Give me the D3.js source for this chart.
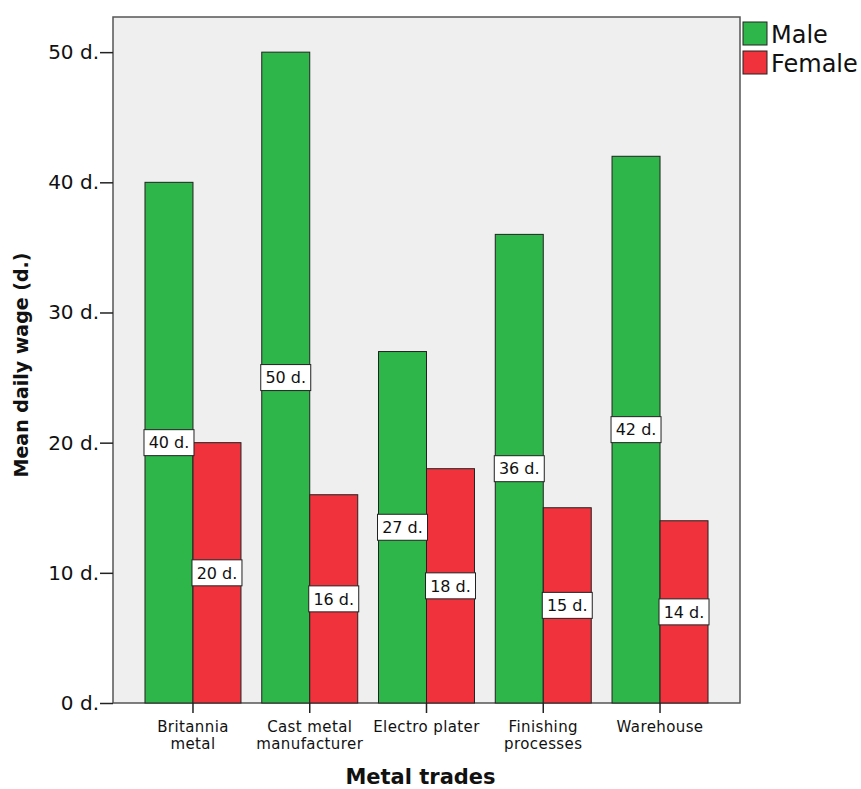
<!DOCTYPE html>
<html>
<head>
<meta charset="utf-8">
<script src="https://cdn.jsdelivr.net/npm/d3@7"></script>
<style>
  body { margin: 0; background: #fff; }
  text { font-family: "DejaVu Sans", sans-serif; fill: #111; }
</style>
</head>
<body>
<div id="graph"></div>
<script>
// metal trades, mean daily wage in pence
var trades = ['Britannia metal', 'Cast metal manufacturer', 'Electro plater', 'Finishing processes', 'Warehouse']
var tradeLines = [['Britannia', 'metal'], ['Cast metal', 'manufacturer'], ['Electro plater'], ['Finishing', 'processes'], ['Warehouse']]
var sexes = ['Male', 'Female']
var male = [40, 50, 27, 36, 42]
var female = [20, 16, 18, 15, 14]
var yTicks = [0, 10, 20, 30, 40, 50]

var colors = {Male: '#2fb64a', Female: '#ef323b'}

var width = 861, height = 789
// plot box edges (note: `top` is reserved on window, so prefix them)
var pLeft = 113, pRight = 740, pTop = 17, pBottom = 703

var svg = d3.select('#graph').append('svg')
  .attr('width', width).attr('height', height)

var x0 = d3.scaleBand().domain(trades).range([pLeft, pRight])
  .paddingInner(0.178).paddingOuter(0.274)
var x1 = d3.scaleBand().domain(sexes).range([0, x0.bandwidth()])
var y = d3.scaleLinear().domain([0, 52.7]).range([pBottom, pTop])

var rows = trades.map((t, i) => ({trade: t, lines: tradeLines[i], Male: male[i], Female: female[i]}))

// plot frame
svg.append('rect')
  .attr('x', pLeft).attr('y', pTop)
  .attr('width', pRight - pLeft).attr('height', pBottom - pTop)
  .attr('fill', '#efefef').attr('stroke', '#555').attr('stroke-width', 1.5)

// bars
var groups = svg.selectAll('g.grp').data(rows).join('g')
  .attr('class', 'grp')
  .attr('transform', d => `translate(${x0(d.trade)},0)`)

groups.selectAll('rect').data(d => sexes.map(s => ({sex: s, v: d[s]}))).join('rect')
  .attr('x', d => x1(d.sex))
  .attr('y', d => y(d.v))
  .attr('width', x1.bandwidth())
  .attr('height', d => y(0) - y(d.v))
  .attr('fill', d => colors[d.sex])
  .attr('stroke', '#222').attr('stroke-width', 1)

// value labels
var lab = groups.selectAll('g.lab').data(d => sexes.map(s => ({sex: s, v: d[s]}))).join('g')
  .attr('class', 'lab')
  .attr('transform', d => `translate(${x1(d.sex) + x1.bandwidth() / 2},${y(d.v / 2)})`)
lab.append('rect')
  .attr('x', -25).attr('y', -13).attr('width', 50).attr('height', 26)
  .attr('fill', '#fff').attr('stroke', '#222').attr('stroke-width', 1)
lab.append('text')
  .attr('text-anchor', 'middle').attr('dy', '0.36em')
  .style('font-size', '16px')
  .text(d => d.v + ' d.')

// y axis
var yAxis = svg.append('g')
  .attr('transform', `translate(${pLeft},0)`)
  .call(d3.axisLeft(y).tickValues(yTicks).tickSize(13).tickPadding(1).tickFormat(d => d + ' d.'))
yAxis.select('.domain').remove()
yAxis.selectAll('line').attr('stroke', '#222').attr('stroke-width', 1.5)
yAxis.selectAll('text').style('font-size', '20px').attr('fill', '#111')
  .style('font-family', '"DejaVu Sans", sans-serif')

// x axis
var xAxis = svg.append('g')
  .attr('transform', `translate(0,${pBottom})`)
  .call(d3.axisBottom(x0).tickSize(10).tickFormat(''))
xAxis.select('.domain').remove()
xAxis.selectAll('line').attr('stroke', '#222').attr('stroke-width', 1.5)

svg.selectAll('text.cat').data(rows).join('text')
  .attr('class', 'cat')
  .attr('text-anchor', 'middle')
  .attr('transform', d => `translate(${x0(d.trade) + x0.bandwidth() / 2},732)`)
  .style('font-size', '15px')
  .style('letter-spacing', '0.4px')
  .selectAll('tspan').data(d => d.lines).join('tspan')
  .attr('x', 0).attr('y', (d, i) => i * 16.5)
  .text(d => d)

// axis titles
svg.append('text')
  .attr('x', (pLeft + pRight) / 2 - 6).attr('y', 784)
  .attr('text-anchor', 'middle')
  .style('font-size', '21px').style('font-weight', 'bold')
  .text('Metal trades')

svg.append('text')
  .attr('transform', `translate(28,${(pTop + pBottom) / 2 + 5}) rotate(-90)`)
  .attr('text-anchor', 'middle')
  .style('font-size', '19px').style('font-weight', 'bold')
  .text('Mean daily wage (d.)')

// legend
var leg = svg.selectAll('g.leg').data(sexes).join('g')
  .attr('class', 'leg')
  .attr('transform', (d, i) => `translate(743,${22 + i * 29})`)
leg.append('rect')
  .attr('width', 24).attr('height', 23)
  .attr('fill', d => colors[d]).attr('stroke', '#222').attr('stroke-width', 1)
leg.append('text')
  .attr('x', 28).attr('y', 21)
  .style('font-size', '24px')
  .text(d => d)
</script>
</body>
</html>
